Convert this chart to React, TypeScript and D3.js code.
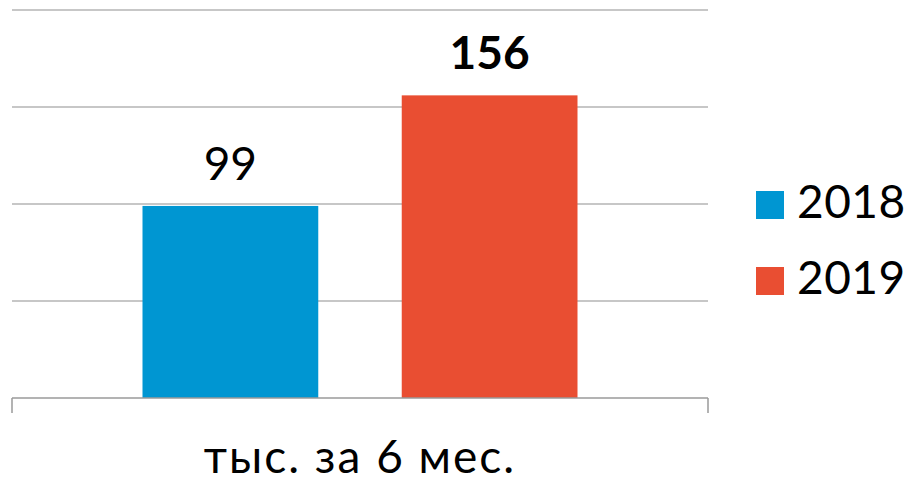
import React from 'react';
import * as d3 from 'd3';

const categories = ['тыс. за 6 мес.'];
const seriesNames = ['2018', '2019'];
const seriesValues = [99, 156];
const seriesColors = ['#0096D2', '#E94E32'];
const yTicks = [0, 50, 100, 150, 200];

const width = 909;
const height = 477;
const margin = { top: 10, right: 201, bottom: 79, left: 12 };
const font = 'Lato, "Open Sans", sans-serif';

export default function App() {
  const innerRight = width - margin.right;
  const baseline = height - margin.bottom;

  const x0 = d3
    .scaleBand<string>()
    .domain(categories)
    .range([margin.left, innerRight])
    .paddingInner(0)
    .paddingOuter(0.3);

  const x1 = d3
    .scaleBand<string>()
    .domain(seriesNames)
    .range([0, x0.bandwidth()])
    .paddingInner(0.322)
    .paddingOuter(0);

  const y = d3.scaleLinear().domain([0, 200]).range([baseline, margin.top]);

  const cat = categories[0];
  const gx = x0(cat) || 0;

  return (
    <svg
      width={width}
      height={height}
      style={{ position: 'absolute', left: 0, top: 0, background: '#fff' }}
    >
      {/* gridlines */}
      {yTicks
        .filter(t => t > 0)
        .map(t => (
          <line
            key={t}
            x1={margin.left}
            x2={innerRight}
            y1={y(t)}
            y2={y(t)}
            stroke="#b5b5b5"
            strokeWidth={1.5}
          />
        ))}

      {/* bars */}
      {seriesNames.map((s, i) => {
        const bx = gx + (x1(s) || 0);
        return (
          <g key={s}>
            <rect
              x={bx}
              y={y(seriesValues[i])}
              width={x1.bandwidth()}
              height={baseline - y(seriesValues[i])}
              fill={seriesColors[i]}
            />
            <text
              x={bx + x1.bandwidth() / 2}
              y={y(seriesValues[i]) - 26}
              textAnchor="middle"
              fontFamily={font}
              fontSize={46}
              fontWeight={i === 1 ? 700 : 400}
              fill="#000"
            >
              {seriesValues[i]}
            </text>
          </g>
        );
      })}

      {/* x axis */}
      <line
        x1={margin.left}
        x2={innerRight}
        y1={baseline}
        y2={baseline}
        stroke="#9a9a9a"
        strokeWidth={1.5}
      />
      {[margin.left, innerRight].map(px => (
        <line
          key={px}
          x1={px}
          x2={px}
          y1={baseline}
          y2={baseline + 15}
          stroke="#9a9a9a"
          strokeWidth={1.5}
        />
      ))}
      <text
        x={gx + x0.bandwidth() / 2}
        y={473}
        textAnchor="middle"
        fontFamily={font}
        fontSize={46}
        letterSpacing={2}
        fill="#000"
      >
        {cat}
      </text>

      {/* legend */}
      {seriesNames.map((s, i) => (
        <g key={s} transform={`translate(756, ${191 + i * 76})`}>
          <rect width={28} height={28} fill={seriesColors[i]} />
          <text
            x={41}
            y={27}
            fontFamily={font}
            fontSize={46}
            letterSpacing={0.5}
            fill="#000"
          >
            {s}
          </text>
        </g>
      ))}
    </svg>
  );
}
